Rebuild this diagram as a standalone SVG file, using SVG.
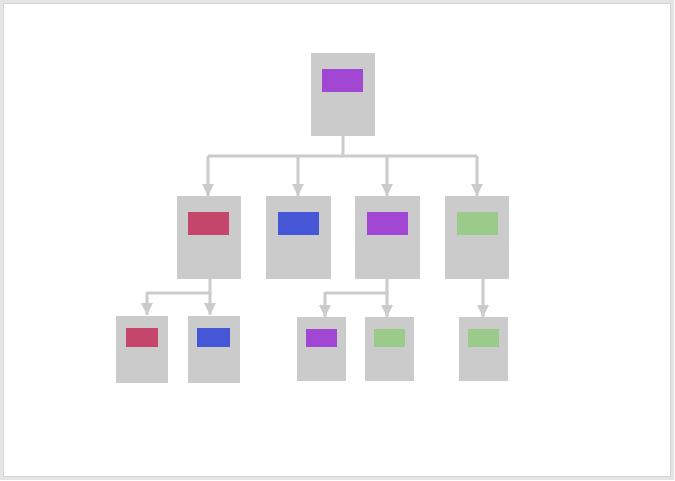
<svg xmlns="http://www.w3.org/2000/svg" width="675" height="481" viewBox="0 0 675 481">
<style>
.card{fill:#cbcbcb}
.red{fill:#c4466a}
.blue{fill:#4557d6}
.purple{fill:#a247d3}
.green{fill:#9bcb8b}
.ln{fill:none;stroke:#cbcbcb;stroke-width:3}
</style>
<defs>
<marker id="ah" markerWidth="4.4" markerHeight="4" refX="4" refY="2" orient="auto" markerUnits="strokeWidth">
<path d="M0,0 L4,2 L0,4 z" fill="#cbcbcb"/>
</marker>
</defs>
<rect x="0" y="0" width="675" height="481" fill="#ffffff"/>
<rect x="1.5" y="1.5" width="671" height="477" fill="none" stroke="#e4e4e4" stroke-width="3"/>
<rect x="3.5" y="3.5" width="667" height="473" fill="none" stroke="#d6d6d6" stroke-width="1"/>
<g id="connectors">
<path class="ln" d="M343,136 V156"/>
<path class="ln" d="M208,156 H477"/>
<path class="ln" d="M208,156 V196" marker-end="url(#ah)"/>
<path class="ln" d="M298,156 V196" marker-end="url(#ah)"/>
<path class="ln" d="M387,156 V196" marker-end="url(#ah)"/>
<path class="ln" d="M477,156 V196" marker-end="url(#ah)"/>
<path class="ln" d="M210,279 V293 H147"/>
<path class="ln" d="M147,292 V315" marker-end="url(#ah)"/>
<path class="ln" d="M210,292 V315" marker-end="url(#ah)"/>
<path class="ln" d="M387,279 V293 H325"/>
<path class="ln" d="M325,292 V317" marker-end="url(#ah)"/>
<path class="ln" d="M387,292 V317" marker-end="url(#ah)"/>
<path class="ln" d="M483,279 V317" marker-end="url(#ah)"/>
</g>
<g id="root"><rect class="card" x="311" y="53" width="64" height="83"/><rect class="purple" x="322" y="69" width="41" height="23"/></g>
<g id="n1"><rect class="card" x="177" y="196" width="64" height="83"/><rect class="red" x="188" y="212" width="41" height="23"/></g>
<g id="n2"><rect class="card" x="266" y="196" width="65" height="83"/><rect class="blue" x="278" y="212" width="41" height="23"/></g>
<g id="n3"><rect class="card" x="355" y="196" width="65" height="83"/><rect class="purple" x="367" y="212" width="41" height="23"/></g>
<g id="n4"><rect class="card" x="445" y="196" width="64" height="83"/><rect class="green" x="457" y="212" width="41" height="23"/></g>
<g id="n11"><rect class="card" x="116" y="316" width="52" height="67"/><rect class="red" x="126" y="328" width="32" height="19"/></g>
<g id="n12"><rect class="card" x="188" y="316" width="52" height="67"/><rect class="blue" x="197" y="328" width="33" height="19"/></g>
<g id="n31"><rect class="card" x="297" y="317" width="49" height="64"/><rect class="purple" x="306" y="329" width="31" height="18"/></g>
<g id="n32"><rect class="card" x="365" y="317" width="49" height="64"/><rect class="green" x="374" y="329" width="31" height="18"/></g>
<g id="n41"><rect class="card" x="459" y="317" width="49" height="64"/><rect class="green" x="468" y="329" width="31" height="18"/></g>
</svg>
